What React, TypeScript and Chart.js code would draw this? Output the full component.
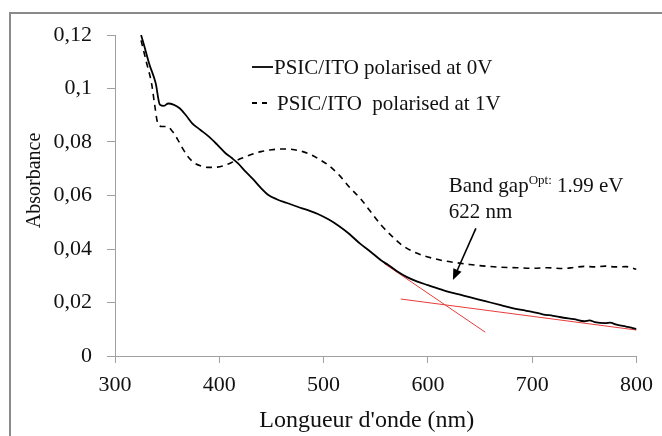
import React, { useEffect, useRef } from "react";
import { Chart, registerables } from "chart.js";

Chart.register(...registerables);

// ---------- data ----------
const wl0 = [325, 328, 333, 339, 343, 347, 351, 356, 362, 368, 374, 382, 390, 398, 406, 412, 418, 425, 433, 440, 447, 455, 465, 475, 485, 495, 505, 515, 525, 535, 545, 555, 562, 570, 580, 590, 600, 610, 620, 630, 640, 650, 660, 670, 680, 690, 700, 710, 720, 730, 740, 750, 755, 760, 770, 775, 780, 790, 795, 800];
const abs0 = [0.12, 0.116, 0.109, 0.102, 0.094, 0.0935, 0.0944, 0.094, 0.0926, 0.09, 0.087, 0.0845, 0.082, 0.079, 0.0758, 0.074, 0.072, 0.069, 0.0658, 0.0628, 0.0602, 0.0586, 0.0572, 0.0558, 0.0545, 0.053, 0.051, 0.0485, 0.0455, 0.042, 0.039, 0.0358, 0.034, 0.0318, 0.0295, 0.0278, 0.0265, 0.0252, 0.024, 0.023, 0.022, 0.021, 0.02, 0.019, 0.018, 0.0172, 0.0165, 0.0156, 0.015, 0.0143, 0.0138, 0.013, 0.0133, 0.0127, 0.0123, 0.0125, 0.0118, 0.011, 0.0106, 0.01];

const wl1 = [325, 330, 335, 338, 341, 345, 350, 355, 360, 365, 370, 376, 383, 390, 398, 406, 414, 422, 430, 440, 450, 462, 472, 480, 488, 496, 505, 515, 525, 535, 545, 555, 565, 575, 585, 595, 605, 615, 625, 640, 655, 670, 685, 700, 715, 730, 740, 750, 760, 770, 780, 790, 800];
const abs1 = [0.118, 0.11, 0.102, 0.094, 0.087, 0.0858, 0.0858, 0.084, 0.081, 0.0775, 0.0745, 0.0722, 0.071, 0.0705, 0.0706, 0.0714, 0.0727, 0.074, 0.0752, 0.0764, 0.0771, 0.0774, 0.0771, 0.0764, 0.0752, 0.0735, 0.0712, 0.0676, 0.063, 0.059, 0.054, 0.049, 0.045, 0.0415, 0.0392, 0.0376, 0.0365, 0.0356, 0.035, 0.0342, 0.0336, 0.0332, 0.033, 0.0328, 0.033, 0.0327, 0.0331, 0.0335, 0.0333, 0.0336, 0.0333, 0.0334, 0.0324];

const tanAx = [558, 655];
const tanAy = [0.0346, 0.0089];
const tanBx = [574, 800];
const tanBy = [0.0213, 0.0097];

const seriesLabels = ["PSIC/ITO polarised at 0V", "PSIC/ITO  polarised at 1V"];
const arrowFrom = [646, 0.0477];
const arrowTo = [624, 0.0284];
const noteX = 620;
const noteY = [0.0635, 0.0535];
const noteMain = "Band gap";
const noteSup = "Opt:";
const noteValue = " 1.99 eV";
const noteLine2 = "622 nm";

const xTitle = "Longueur d'onde (nm)   ";
const yTitle = "      Absorbance";
const xMin = 300, xMax = 800, xStep = 100;
const yMin = 0, yMax = 0.12, yStep = 0.02;

const FONT = "'Liberation Serif', 'Times New Roman', serif";

const pts = (xs: number[], ys: number[]) => xs.map((x, i) => ({ x, y: ys[i] }));

const fmtY = (v: number | string) => {
  const s = Number(v).toFixed(2).replace(/0+$/, "").replace(/\.$/, "");
  return s.replace(".", ",");
};

const decor = {
  id: "decor",
  afterDraw(chart: any) {
    const { ctx } = chart;
    const xs = chart.scales.x;
    const ys = chart.scales.y;
    ctx.save();
    // outer frame
    ctx.strokeStyle = "#8a8a8a";
    ctx.lineWidth = 2;
    ctx.beginPath();
    ctx.moveTo(10, 436);
    ctx.lineTo(10, 13);
    ctx.lineTo(662, 13);
    ctx.stroke();

    // legend
    ctx.fillStyle = "#111";
    ctx.textBaseline = "middle";
    ctx.textAlign = "left";
    ctx.font = `21px ${FONT}`;
    ctx.strokeStyle = "#000";
    ctx.lineWidth = 1.8;
    ctx.beginPath();
    ctx.moveTo(252, 67);
    ctx.lineTo(273, 67);
    ctx.stroke();
    ctx.fillText(seriesLabels[0], 274, 68);
    ctx.setLineDash([5, 5]);
    ctx.beginPath();
    ctx.moveTo(252, 103);
    ctx.lineTo(268, 103);
    ctx.stroke();
    ctx.setLineDash([]);
    ctx.fillText(seriesLabels[1], 277, 104);

    // arrow
    const ax0 = xs.getPixelForValue(arrowFrom[0]);
    const ay0 = ys.getPixelForValue(arrowFrom[1]);
    const ax1 = xs.getPixelForValue(arrowTo[0]);
    const ay1 = ys.getPixelForValue(arrowTo[1]);
    const ang = Math.atan2(ay1 - ay0, ax1 - ax0);
    const hl = 11, hw = 4.5;
    const bx = ax1 - hl * Math.cos(ang);
    const by = ay1 - hl * Math.sin(ang);
    ctx.strokeStyle = "#000";
    ctx.lineWidth = 1.6;
    ctx.beginPath();
    ctx.moveTo(ax0, ay0);
    ctx.lineTo(bx, by);
    ctx.stroke();
    ctx.fillStyle = "#000";
    ctx.beginPath();
    ctx.moveTo(ax1, ay1);
    ctx.lineTo(bx + hw * Math.sin(ang), by - hw * Math.cos(ang));
    ctx.lineTo(bx - hw * Math.sin(ang), by + hw * Math.cos(ang));
    ctx.closePath();
    ctx.fill();

    // annotation text
    ctx.fillStyle = "#111";
    const tx = xs.getPixelForValue(noteX);
    const ty1 = ys.getPixelForValue(noteY[0]);
    const ty2 = ys.getPixelForValue(noteY[1]);
    ctx.font = `21px ${FONT}`;
    ctx.fillText(noteMain, tx, ty1);
    let w = ctx.measureText(noteMain).width;
    ctx.font = `13px ${FONT}`;
    ctx.fillText(noteSup, tx + w, ty1 - 6);
    w += ctx.measureText(noteSup).width;
    ctx.font = `21px ${FONT}`;
    ctx.fillText(noteValue, tx + w, ty1);
    ctx.fillText(noteLine2, tx, ty2);
    ctx.restore();
  },
};

export default function App() {
  const ref = useRef<HTMLCanvasElement | null>(null);
  useEffect(() => {
    if (!ref.current) return;
    const chart = new Chart(ref.current, {
      type: "line",
      data: {
        datasets: [
          {
            label: seriesLabels[0],
            data: pts(wl0, abs0),
            borderColor: "#000",
            borderWidth: 1.8,
            pointRadius: 0,
            cubicInterpolationMode: "monotone",
            fill: false,
          },
          {
            label: seriesLabels[1],
            data: pts(wl1, abs1),
            borderColor: "#000",
            borderWidth: 1.6,
            borderDash: [6, 5],
            pointRadius: 0,
            cubicInterpolationMode: "monotone",
            fill: false,
          },
          {
            label: "tangent A",
            data: pts(tanAx, tanAy),
            borderColor: "rgb(232,60,60)",
            borderWidth: 1,
            pointRadius: 0,
            fill: false,
          },
          {
            label: "tangent B",
            data: pts(tanBx, tanBy),
            borderColor: "rgb(232,60,60)",
            borderWidth: 1,
            pointRadius: 0,
            fill: false,
          },
        ],
      },
      options: {
        responsive: false,
        animation: false,
        layout: { padding: { left: 0, top: 35, right: 19, bottom: 0 } },
        plugins: { legend: { display: false }, tooltip: { enabled: false } },
        scales: {
          x: {
            type: "linear",
            min: xMin,
            max: xMax,
            ticks: {
              stepSize: xStep,
              font: { family: FONT, size: 22 },
              color: "#111",
              padding: 9,
              maxRotation: 0,
              autoSkip: false,
            },
            grid: { drawOnChartArea: false, drawTicks: true, tickLength: 7, color: "#a0a0a0" },
            border: { display: true, color: "#a0a0a0", width: 1 },
            title: {
              display: true,
              text: xTitle,
              font: { family: FONT, size: 24 },
              color: "#111",
              padding: { top: 0, bottom: 1 },
            },
            afterFit: (s: any) => {
              s.height = 80;
            },
          },
          y: {
            type: "linear",
            min: yMin,
            max: yMax,
            ticks: {
              stepSize: yStep,
              font: { family: FONT, size: 22 },
              color: "#111",
              padding: 15,
              callback: (v: any) => fmtY(v),
            },
            grid: { drawOnChartArea: false, drawTicks: true, tickLength: 8, color: "#a0a0a0" },
            border: { display: true, color: "#a0a0a0", width: 1 },
            title: {
              display: true,
              text: yTitle,
              font: { family: FONT, size: 20 },
              color: "#111",
              padding: { top: 23, bottom: 0 },
            },
            afterFit: (s: any) => {
              s.width = 115;
            },
          },
        },
      },
      plugins: [decor],
    } as any);
    return () => chart.destroy();
  }, []);
  return (
    <div style={{ position: "fixed", left: 0, top: 0, width: 662, height: 436, background: "#fff" }}>
      <canvas ref={ref} width={662} height={436} style={{ display: "block" }} />
    </div>
  );
}
